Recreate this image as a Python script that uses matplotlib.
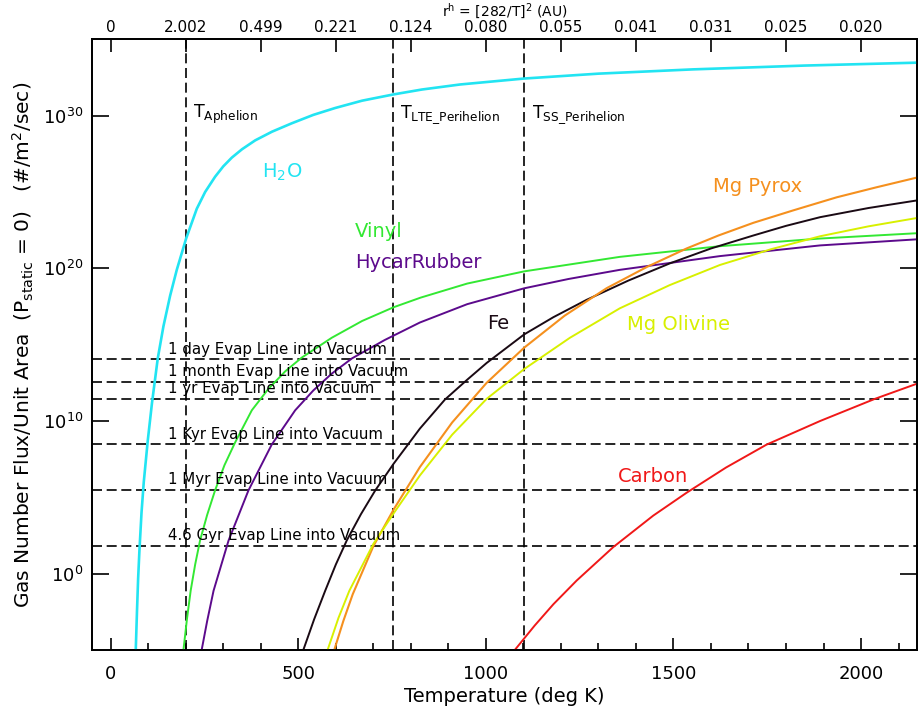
import numpy as np
import matplotlib
matplotlib.use('Agg')
import matplotlib.pyplot as plt

# ---------------- data ----------------
h2o_T = [66.7, 70, 73, 76.4, 82, 88, 98.7, 110, 125.3, 140.4, 158.2, 176, 200.9, 229.3,
         251.6, 278.2, 300, 322.7, 350, 385, 430, 482.7, 540, 598.2, 670, 753.8, 829.3,
         931, 1102, 1300, 1552, 1850, 2150]
h2o_logF = [-4.95, -2.4, -0.3, 1.5, 4.0, 6.0, 8.73, 11.2, 14.1, 16.2, 18.2, 19.9, 21.95,
            23.9, 25.0, 26.0, 26.68, 27.25, 27.8, 28.38, 28.95, 29.5, 30.05, 30.5,
            30.98, 31.39, 31.71, 32.04, 32.43, 32.75, 33.03, 33.28, 33.47]

vinyl_T = [194, 203, 213, 225, 238, 257, 278, 303, 331.6, 376, 420, 465, 509, 589, 670,
           754, 826, 950, 1102, 1357, 1624, 1891, 2150]
vinyl_logF = [-4.95, -3.0, -1.12, 0.6, 2.17, 3.85, 5.45, 7.1, 8.6, 10.7, 12.1, 13.25,
              14.15, 15.45, 16.55, 17.45, 18.08, 19.0, 19.8, 20.75, 21.45, 21.95, 22.3]

hycar_T = [242.7, 257, 274, 314, 367, 429, 491.6, 540, 589, 643, 730, 824, 950, 1102,
           1220, 1357, 1624, 1891, 2150]
hycar_logF = [-4.95, -3.1, -1.12, 2.17, 5.45, 8.45, 10.7, 12.0, 13.1, 14.1, 15.3, 16.45,
              17.65, 18.69, 19.3, 19.9, 20.8, 21.5, 21.9]

fe_T = [514, 542, 571.6, 600, 629, 667, 705, 754, 824, 890.7, 950, 1002, 1102, 1180,
        1268, 1380, 1491, 1600, 1713, 1800, 1891, 2020, 2150]
fe_logF = [-4.95, -3.0, -1.12, 0.6, 2.17, 3.9, 5.45, 7.2, 9.5, 11.4, 12.7, 13.8, 15.67,
           16.8, 17.93, 19.2, 20.33, 21.3, 22.15, 22.78, 23.35, 23.95, 24.45]

pyrox_T = [596.4, 620, 645, 700, 754, 824, 910, 1002, 1102, 1210, 1322, 1430, 1535,
           1620, 1713, 1820, 1935, 2040, 2150]
pyrox_logF = [-4.95, -3.1, -1.35, 1.8, 4.2, 6.98, 9.9, 12.5, 14.8, 16.9, 18.7, 20.1,
              21.3, 22.15, 22.98, 23.8, 24.65, 25.3, 25.95]

olivine_T = [578.7, 607, 636, 700, 754, 824, 910, 1002, 1102, 1224, 1357, 1490, 1624,
             1760, 1891, 2020, 2150]
olivine_logF = [-4.95, -2.9, -1.12, 1.95, 3.95, 6.43, 9.1, 11.45, 13.4, 15.45, 17.38,
                18.9, 20.22, 21.25, 22.1, 22.75, 23.3]

carbon_T = [1077, 1130, 1180, 1242, 1340, 1446, 1535, 1640, 1748, 1891, 2037, 2150]
carbon_logF = [-5.0, -3.4, -2.0, -0.45, 1.75, 3.8, 5.3, 6.95, 8.45, 10.0, 11.45, 12.45]

series_names = [r'H$_2$O', 'Vinyl', 'HycarRubber', 'Fe', 'Mg Pyrox', 'Mg Olivine', 'Carbon']
series_T = [h2o_T, vinyl_T, hycar_T, fe_T, pyrox_T, olivine_T, carbon_T]
series_logF = [h2o_logF, vinyl_logF, hycar_logF, fe_logF, pyrox_logF, olivine_logF, carbon_logF]
series_colors = ['#22e4f2', '#33e833', '#5c0a8c', '#1a0a14', '#f5901e', '#d8f000', '#f01818']
series_lw = [1.9, 1.4, 1.4, 1.4, 1.5, 1.4, 1.4]
label_T = [403, 651, 651, 1002, 1606, 1375, 1353]
label_logF = [26.3, 22.41, 20.35, 16.39, 25.37, 16.35, 6.37]

evap_labels = ['1 day Evap Line into Vacuum', '1 month Evap Line into Vacuum',
               '1 yr Evap Line into Vacuum', '1 Kyr Evap Line into Vacuum',
               '1 Myr Evap Line into Vacuum', '4.6 Gyr Evap Line into Vacuum']
evap_logF = [14.03, 12.55, 11.47, 8.47, 5.47, 1.81]

vline_T = [200, 752, 1102]
vline_labels = [r'T$_{\rm Aphelion}$', r'T$_{\rm LTE\_Perihelion}$', r'T$_{\rm SS\_Perihelion}$']

bottom_ticks = [0, 500, 1000, 1500, 2000]
top_tick_T = [0, 200, 400, 600, 800, 1000, 1200, 1400, 1600, 1800, 2000]
top_tick_labels = ['0', '2.002', '0.499', '0.221', '0.124', '0.080', '0.055',
                   '0.041', '0.031', '0.025', '0.020']
y_major_exp = [0, 10, 20, 30]

# ---------------- figure ----------------
plt.rcParams['font.family'] = ['DejaVu Sans']
plt.rcParams['mathtext.fontset'] = 'dejavusans'
W, H = 919, 713
fig = plt.figure(figsize=(W / 100, H / 100), dpi=100)
L, R, T_, B_ = 92, 917.3, 39.3, 650
ax = fig.add_axes([L / W, 1 - B_ / H, (R - L) / W, (B_ - T_) / H])

for T, lf, c, lw in zip(series_T, series_logF, series_colors, series_lw):
    ax.plot(T, 10.0 ** np.array(lf), color=c, lw=lw, zorder=3,
            solid_joinstyle='round', solid_capstyle='round')

for name, t, lf, c in zip(series_names, label_T, label_logF, series_colors):
    ax.text(t, 10.0 ** lf, name, color=c, fontsize=14, ha='left', va='center')

dash = (0, (6, 2.8))
for v, lab in zip(vline_T, vline_labels):
    ax.axvline(v, color='black', lw=1.2, linestyle=dash, zorder=2)
    ax.text(v + 20, 10 ** 30.05, lab, fontsize=12.5, ha='left', va='center')

for lf, lab in zip(evap_logF, evap_labels):
    ax.axhline(10.0 ** lf, color='black', lw=1.2, linestyle=dash, zorder=2)
    ax.annotate(lab, (152, 10.0 ** lf), xytext=(0, 2), textcoords='offset points',
                fontsize=10.8, ha='left', va='bottom')

ax.set_yscale('log')
ax.set_xlim(-50, 2150)
ax.set_ylim(1e-5, 1e35)

ax.set_xticks(bottom_ticks)
ax.set_xticklabels([str(t) for t in bottom_ticks])
ax.set_xticks(np.arange(0, 2150, 100), minor=True)
ax.set_yticks([10.0 ** e for e in y_major_exp])
ax.set_yticklabels([r'$10^{%d}$' % e for e in y_major_exp])
ax.set_yticks([10.0 ** e for e in range(-4, 35) if e not in y_major_exp], minor=True)
ax.yaxis.set_minor_formatter(matplotlib.ticker.NullFormatter())

ax.tick_params(axis='x', which='both', direction='in', top=False, bottom=True,
               labelsize=13, pad=11)
ax.tick_params(axis='x', which='major', length=9, width=1.2)
ax.tick_params(axis='x', which='minor', length=5, width=1.2)
ax.tick_params(axis='y', which='both', direction='in', left=True, right=True,
               labelsize=13, pad=6)
ax.tick_params(axis='y', which='major', length=12, width=1.2)
ax.tick_params(axis='y', which='minor', length=6, width=1.2)
for s in ax.spines.values():
    s.set_linewidth(1.3)

ax.set_xlabel('Temperature (deg K)', fontsize=14, labelpad=3)
ax.set_ylabel(r'Gas Number Flux/Unit Area  (P$_{\rm static}$ = 0)   (#/m$^2$/sec)',
              fontsize=14.5, labelpad=5)

ax2 = ax.twiny()
ax2.set_xlim(ax.get_xlim())
ax2.set_xticks(top_tick_T)
ax2.set_xticklabels(top_tick_labels)
ax2.tick_params(axis='x', which='major', direction='in', length=9, width=1.2,
                labelsize=11, pad=3)
ax2.minorticks_off()
for s in ax2.spines.values():
    s.set_linewidth(1.3)

fig.text(505 / W, 1 - 2 / H, r'r$^{\rm h}$ = [282/T]$^2$ (AU)', fontsize=10,
         ha='center', va='top')

fig.savefig('out.png', dpi=100)
